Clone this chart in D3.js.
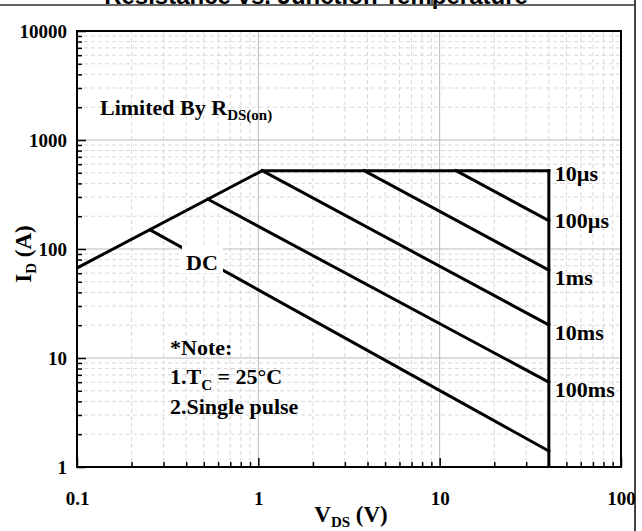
<!DOCTYPE html>
<html>
<head>
<meta charset="utf-8">
<script src="https://cdn.jsdelivr.net/npm/d3@7"></script>
<style>
  html, body { margin: 0; padding: 0; background: #fff; }
  svg { display: block; }
  text { font-family: "Liberation Serif", "Times New Roman", serif; font-weight: bold; fill: #000; }
</style>
</head>
<body>
<svg id="chart" width="642" height="531"></svg>
<script>
// Safe operating area, log-log: drain current vs drain-source voltage
const xDomain = [0.1, 100];
const yDomain = [1, 10000];

// R_DS(on) limited boundary
const rdsV = [0.1, 1.05];
const rdsI = [67, 523];

// pulse-width boundaries: start point on the limit, end at V = 40
const pulseNames = ["10µs", "100µs", "1ms", "10ms", "100ms", "DC"];
const pulseStartV = [1.05, 12.3, 3.83, 1.05, 0.527, 0.253];
const pulseStartI = [523, 523, 523, 523, 286, 150];
const pulseEndV = [40, 40, 40, 40, 40, 40];
const pulseEndI = [523, 182, 64, 20.1, 6.0, 1.4];

// voltage limit (vertical edge at V = 40)
const vLimitV = [40, 40];
const vLimitI = [523, 1];

const xTickLabels = ["0.1", "1", "10", "100"];
const yTickLabels = ["1", "10", "100", "1000", "10000"];

const svg = d3.select("#chart");
const W = 642, H = 531;
const L = 77, R = 621, T = 31, B = 467;

const x = d3.scaleLog().domain(xDomain).range([L, R]);
const y = d3.scaleLog().domain(yDomain).range([B, T]);
const isMajor = v => Math.abs(Math.log10(v) - Math.round(Math.log10(v))) < 1e-9;

// page frame pieces at the top and right (heading row runs off the top edge)
svg.append("text")
  .attr("x", 316).attr("y", 3.5)
  .attr("text-anchor", "middle")
  .style("font-family", "'Liberation Sans', Arial, sans-serif")
  .style("font-size", "24px")
  .text("Resistance vs. Junction Temperature");
svg.append("line").attr("x1", 0).attr("x2", 635).attr("y1", 5).attr("y2", 5)
  .attr("stroke", "#333").attr("stroke-width", 1.5);
svg.append("line").attr("x1", 432).attr("x2", 432).attr("y1", 0).attr("y2", 5)
  .attr("stroke", "#333").attr("stroke-width", 1.5);
svg.append("line").attr("x1", 635).attr("x2", 635).attr("y1", 0).attr("y2", H)
  .attr("stroke", "#444").attr("stroke-width", 2);

// grid
const xt = x.ticks();
const yt = y.ticks();
const grid = svg.append("g");
grid.selectAll(".gx").data(xt.filter(v => v > xDomain[0] && v < xDomain[1])).join("line")
  .attr("x1", d => x(d)).attr("x2", d => x(d)).attr("y1", T).attr("y2", B)
  .attr("stroke", d => isMajor(d) ? "#b8b8b8" : "#d8d8d8")
  .attr("stroke-width", 1)
  .attr("stroke-dasharray", d => isMajor(d) ? null : "4,3");
grid.selectAll(".gy").data(yt.filter(v => v > yDomain[0] && v < yDomain[1])).join("line")
  .attr("y1", d => y(d)).attr("y2", d => y(d)).attr("x1", L).attr("x2", R)
  .attr("stroke", d => isMajor(d) ? "#b8b8b8" : "#d8d8d8")
  .attr("stroke-width", 1)
  .attr("stroke-dasharray", d => isMajor(d) ? null : "4,3");

// axes with inward ticks
const xAxis = d3.axisBottom(x).tickValues(xt).tickSize(-5).tickPadding(0)
  .tickFormat(d => isMajor(d) ? xTickLabels[Math.round(Math.log10(d)) + 1] : "");
const gx = svg.append("g").attr("transform", `translate(0,${B})`).call(xAxis);
gx.select(".domain").remove();
gx.selectAll(".tick line").attr("stroke", "#000").attr("stroke-width", 1.5)
  .attr("y2", d => isMajor(d) ? -9 : -5);
gx.selectAll(".tick text").attr("y", 38).attr("dy", null)
  .style("font-size", "19px");

const yAxis = d3.axisLeft(y).tickValues(yt).tickSize(-5).tickPadding(0)
  .tickFormat(d => isMajor(d) ? yTickLabels[Math.round(Math.log10(d))] : "");
const gy = svg.append("g").attr("transform", `translate(${L},0)`).call(yAxis);
gy.select(".domain").remove();
gy.selectAll(".tick line").attr("stroke", "#000").attr("stroke-width", 1.5)
  .attr("x2", d => isMajor(d) ? 9 : 5);
gy.selectAll(".tick text").attr("x", -10).attr("dy", "0.35em")
  .style("font-size", "19px");

// plot frame
svg.append("rect").attr("x", L).attr("y", T).attr("width", R - L).attr("height", B - T)
  .attr("fill", "none").attr("stroke", "#000").attr("stroke-width", 2);

// curves
svg.append("clipPath").attr("id", "plotClip").append("rect")
  .attr("x", L).attr("y", T).attr("width", R - L).attr("height", B - T);
const curves = svg.append("g").attr("clip-path", "url(#plotClip)");
const line = d3.line().x(d => x(d[0])).y(d => y(d[1]));
const stroke = sel => sel.attr("fill", "none").attr("stroke", "#000")
  .attr("stroke-width", 3).attr("stroke-linejoin", "miter").attr("stroke-linecap", "square");

curves.append("path").datum(rdsV.map((v, i) => [v, rdsI[i]])).attr("d", line).call(stroke);
curves.append("path").datum(vLimitV.map((v, i) => [v, vLimitI[i]])).attr("d", line).call(stroke);
pulseNames.forEach((name, i) => {
  curves.append("path")
    .datum([[pulseStartV[i], pulseStartI[i]], [pulseEndV[i], pulseEndI[i]]])
    .attr("d", line).call(stroke);
});

// pulse labels at the right edge
const labelDy = [10, 7.5, 15, 15.5, 14.5];
pulseNames.slice(0, 5).forEach((name, i) => {
  svg.append("text")
    .attr("x", x(pulseEndV[i]) + 6)
    .attr("y", y(pulseEndI[i]) + labelDy[i])
    .style("font-size", "22px")
    .text(name);
});

// DC label sits on its curve with a white backing
svg.append("rect").attr("x", 182).attr("y", 246).attr("width", 41).attr("height", 27).attr("fill", "#fff");
svg.append("text").attr("x", 186).attr("y", 270).style("font-size", "22px").text(pulseNames[5]);

// annotations
const lim = svg.append("text").attr("x", 100).attr("y", 115).style("font-size", "22px");
lim.append("tspan").text("Limited By R");
lim.append("tspan").attr("dy", 5).style("font-size", "15px").text("DS(on)");

svg.append("text").attr("x", 170).attr("y", 355).style("font-size", "22px").text("*Note:");
const tc = svg.append("text").attr("x", 170).attr("y", 384).style("font-size", "22px");
tc.append("tspan").text("1.T");
tc.append("tspan").attr("dy", 6).style("font-size", "15px").text("C");
tc.append("tspan").attr("dy", -6).text(" = 25°C");
svg.append("text").attr("x", 170).attr("y", 414).style("font-size", "22px").text("2.Single pulse");

// axis titles
const xt2 = svg.append("text").attr("x", (L + R) / 2 + 2).attr("y", 522)
  .attr("text-anchor", "middle").style("font-size", "23px");
xt2.append("tspan").text("V");
xt2.append("tspan").attr("dy", 5).style("font-size", "15px").text("DS");
xt2.append("tspan").attr("dy", -5).text(" (V)");

const yt2 = svg.append("text")
  .attr("transform", `translate(31,${(T + B) / 2 + 5}) rotate(-90)`)
  .attr("text-anchor", "middle").style("font-size", "23px");
yt2.append("tspan").text("I");
yt2.append("tspan").attr("dy", 5).style("font-size", "15px").text("D");
yt2.append("tspan").attr("dy", -5).text(" (A)");
</script>
</body>
</html>
